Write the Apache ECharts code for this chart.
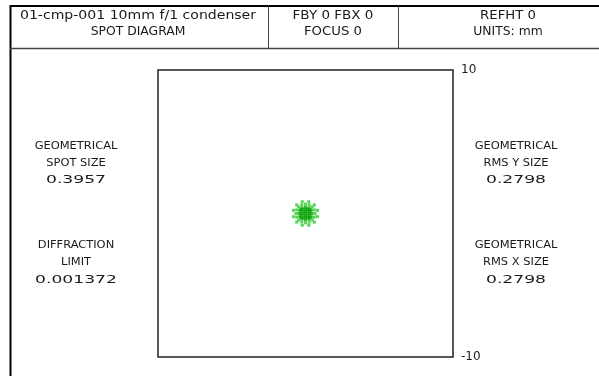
<!DOCTYPE html>
<html>
<head>
<meta charset="utf-8">
<script src="https://cdn.jsdelivr.net/npm/echarts@6/dist/echarts.min.js"></script>
<style>
  html, body { margin: 0; padding: 0; background: #fff; }
  #chart { width: 599px; height: 376px; }
</style>
</head>
<body>
<div id="chart"></div>
<script>
// Ray intercepts at the image plane (mm)
const spotX = [
  -0.3, -0.15, 0, 0.15, 0.3,
  -0.3, -0.15, 0, 0.15, 0.3,
  -0.3, -0.15, 0, 0.15, 0.3,
  -0.3, -0.15, 0, 0.15, 0.3,
  -0.3, -0.15, 0, 0.15, 0.3,
  0.45, 0.39, 0.23, 0, -0.23, -0.39, -0.45, -0.39, -0.23, 0, 0.23, 0.39,
  0.65, 0.60, 0.46, 0.25, 0, -0.25, -0.46, -0.60, -0.65, -0.60, -0.46, -0.25, 0, 0.25, 0.46, 0.60,
  0.82, 0.60, 0.22, -0.22, -0.60, -0.82, -0.82, -0.60, -0.22, 0.22, 0.60, 0.82
];
const spotY = [
  -0.3, -0.3, -0.3, -0.3, -0.3,
  -0.15, -0.15, -0.15, -0.15, -0.15,
  0, 0, 0, 0, 0,
  0.15, 0.15, 0.15, 0.15, 0.15,
  0.3, 0.3, 0.3, 0.3, 0.3,
  0, 0.23, 0.39, 0.45, 0.39, 0.23, 0, -0.23, -0.39, -0.45, -0.39, -0.23,
  0, 0.25, 0.46, 0.60, 0.65, 0.60, 0.46, 0.25, 0, -0.25, -0.46, -0.60, -0.65, -0.60, -0.46, -0.25,
  0.22, 0.60, 0.82, 0.82, 0.60, 0.22, -0.22, -0.60, -0.82, -0.82, -0.60, -0.22
];

const headerCells = [
  ['01-cmp-001 10mm f/1 condenser', 'SPOT DIAGRAM'],
  ['FBY 0 FBX 0', 'FOCUS 0'],
  ['REFHT 0', 'UNITS: mm']
];
const leftBlocks = [
  ['GEOMETRICAL', 'SPOT SIZE', '0.3957'],
  ['DIFFRACTION', 'LIMIT', '0.001372']
];
const rightBlocks = [
  ['GEOMETRICAL', 'RMS Y SIZE', '0.2798'],
  ['GEOMETRICAL', 'RMS X SIZE', '0.2798']
];
const axisMin = -10;
const axisMax = 10;

const FONT = 'DejaVu Sans';
const INK = '#1a1a1a';
const points = spotX.map((x, i) => [x, spotY[i]]);

// The plotter font draws digits on wide, fixed cells;
// widen digit-heavy strings horizontally to get the same look.
function stretchFor(t, digitSet) {
  const digits = (t.match(digitSet) || []).length;
  return 1 + 0.5 * digits / t.length;
}

function label(x, y, t, size, extra, digitSet) {
  const sx = stretchFor(t, digitSet) * extra;
  return {
    type: 'text', x: x, y: y, scaleX: sx,
    style: { text: t, fill: INK, font: size + 'px ' + FONT, align: 'center', verticalAlign: 'middle' }
  };
}

const graphics = [];
// frame: outer left/top border, header separator, column dividers
graphics.push({ type: 'line', shape: { x1: 10.5, y1: 5, x2: 10.5, y2: 376 }, style: { stroke: '#000', lineWidth: 2 } });
graphics.push({ type: 'line', shape: { x1: 10, y1: 6, x2: 599, y2: 6 }, style: { stroke: '#000', lineWidth: 2 } });
graphics.push({ type: 'line', shape: { x1: 10, y1: 48.5, x2: 599, y2: 48.5 }, style: { stroke: '#444', lineWidth: 1.5 } });
graphics.push({ type: 'line', shape: { x1: 268.5, y1: 6, x2: 268.5, y2: 48 }, style: { stroke: '#444', lineWidth: 1 } });
graphics.push({ type: 'line', shape: { x1: 398.5, y1: 6, x2: 398.5, y2: 48 }, style: { stroke: '#444', lineWidth: 1 } });

const cellCenters = [138, 333, 508];
headerCells.forEach((cell, i) => {
  cell.forEach((t, j) => {
    graphics.push(label(cellCenters[i], 16 + j * 16, t, 12, 1.03, /[0-9]/g));
  });
});

const rowY = [[146, 163, 180], [245, 262, 280]];
function addBlocks(blocks, cx) {
  blocks.forEach((b, i) => {
    b.forEach((t, j) => {
      graphics.push(label(cx, rowY[i][j], t, 11, 1.04, /[0-9.]/g));
    });
  });
}
addBlocks(leftBlocks, 76);
addBlocks(rightBlocks, 516);

const chart = echarts.init(document.getElementById('chart'));
chart.setOption({
  backgroundColor: '#fff',
  animation: false,
  grid: {
    left: 158, top: 70, width: 295, height: 287,
    show: true, borderColor: '#222', borderWidth: 1.5, backgroundColor: 'transparent'
  },
  xAxis: {
    type: 'value', min: axisMin, max: axisMax, interval: 20,
    axisLine: { show: false }, axisTick: { show: false },
    axisLabel: { show: false }, splitLine: { show: false }
  },
  yAxis: {
    type: 'value', min: axisMin, max: axisMax, interval: 20, position: 'right',
    axisLine: { show: false }, axisTick: { show: false }, splitLine: { show: false },
    axisLabel: {
      show: true, margin: 8, color: INK, fontFamily: FONT, fontSize: 12,
      formatter: v => String(v)
    }
  },
  series: [{
    type: 'scatter',
    data: points,
    symbol: 'rect',
    symbolSize: 3,
    itemStyle: {
      // dense core rays read darker than the outer ring
      color: p => (Math.hypot(p.value[0], p.value[1]) < 0.5 ? '#0aa50a' : '#2ccc2c')
    },
    silent: true
  }],
  graphic: graphics
});
</script>
</body>
</html>
